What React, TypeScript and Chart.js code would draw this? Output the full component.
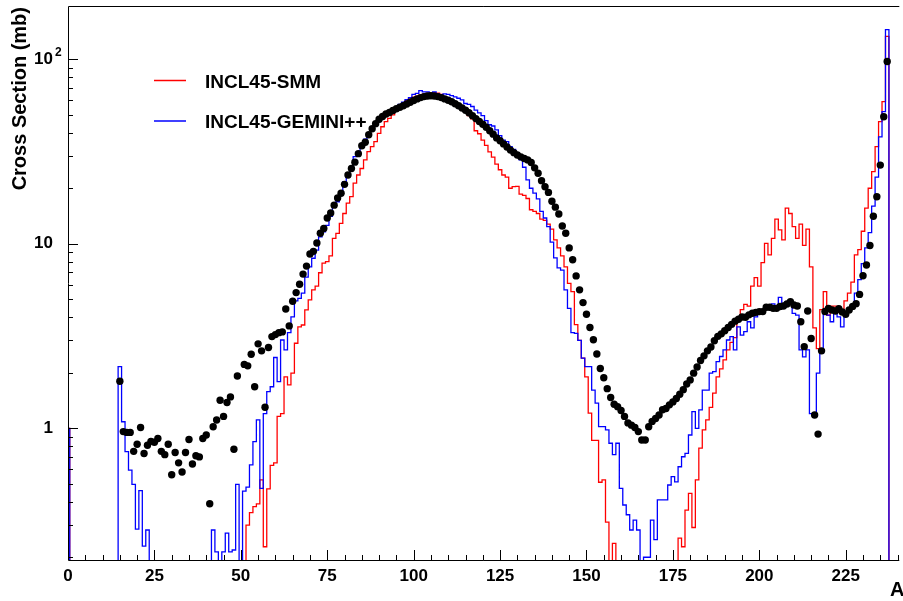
import React, { useEffect, useRef } from "react";
import { Chart, registerables } from "chart.js";

Chart.register(...registerables);

// ---- axis ranges / ticks ----
const X_MIN = 0;
const X_MAX = 240.5;
const Y_MIN = 0.1933;
const Y_MAX = 194.5;
const X_MAJOR_TICKS = [0, 25, 50, 75, 100, 125, 150, 175, 200, 225];
const Y_MAJOR_TICKS = [1, 10, 100];
const Y_TICK_LABELS = ["1", "10", "10"]; // 100 is written 10 with exponent 2
const Y_TICK_EXPONENTS = ["", "", "2"];
const SERIES_NAMES = ["INCL45-SMM", "INCL45-GEMINI++"];
const SERIES_COLORS = ["#ff0000", "#0000ff"];
const X_TITLE = "A";
const Y_TITLE = "Cross Section (mb)";

// ---- histogram contents, bin A = index (0..239) ----
const SMM = [
  1, 0, 0, 0, 0, 0, 0, 0, 0, 0,
  0, 0, 0, 0, 0, 0, 0, 0, 0, 0,
  0, 0, 0, 0, 0, 0, 0, 0, 0, 0,
  0, 0, 0, 0, 0, 0, 0, 0, 0, 0,
  0, 0, 0, 0, 0, 0, 0, 0, 0, 0,
  0, 0, 0.299, 0.349, 0.376, 0.389, 0.525, 0.228, 0.47, 0.63,
  0.65, 1.16, 1.2, 1.9, 1.72, 1.99, 2.89, 3.55, 3.63, 4.38,
  4.97, 5.63, 5.9, 6.97, 7.85, 8.0, 8.6, 10.7, 11.4, 12.9,
  14.6, 16.6, 18.0, 21.3, 23.6, 25.6, 28.5, 31.6, 33.6, 35.8,
  39.7, 43.1, 45.9, 47.9, 50, 52.5, 55, 57.5, 59.5, 61,
  62.3, 63.2, 64, 64.8, 65.4, 65.8, 65.8, 65.5, 64.5, 62,
  60, 58.5, 57, 55.5, 54, 52, 49.5, 47.5, 41, 39.5,
  36.5, 34.2, 31.5, 29.5, 27, 25.2, 23.6, 23.0, 20.0, 20.4,
  20.5, 18.6, 18.3, 17.6, 15.3, 15.0, 14.6, 13.6, 13.4, 12.8,
  12.0, 10.5, 9.5, 8.6, 7.5, 6.1, 5.5, 3.65, 3.0, 2.4,
  1.9, 1.21, 0.86, 0.86, 0.51, 0.525, 0.31, 0, 0.238, 0,
  0, 0, 0, 0, 0, 0, 0, 0, 0, 0,
  0, 0, 0, 0, 0, 0, 0, 0.254, 0.228, 0.36,
  0.444, 0.29, 0.525, 0.78, 0.98, 1.11, 1.3, 1.55, 1.9, 2.1,
  2.35, 2.66, 2.92, 3.1, 3.85, 4.4, 4.7, 4.6, 5.9, 6.55,
  5.9, 7.9, 10.05, 8.7, 10.7, 13.6, 11.9, 10.5, 15.6, 14.6,
  12.4, 10.7, 12.8, 9.8, 12.0, 7.5, 3.5, 2.7, 4.4, 5.5,
  4.1, 4.6, 4.6, 4.25, 4.15, 4.9, 5.4, 6.2, 8.7, 9.3,
  11.7, 15.6, 20, 24.6, 33.6, 45.9, 58.9, 133, 0, 0,
];

const GEMINI = [
  1, 0, 0, 0, 0, 0, 0, 0, 0, 0,
  0, 0, 0, 0, 0, 2.16, 1.085, 0.747, 0.594, 0.497,
  0.284, 0.46, 0.23, 0.281, 0, 0, 0, 0, 0, 0,
  0, 0, 0, 0, 0, 0, 0, 0, 0, 0,
  0, 0, 0.281, 0.214, 0, 0.214, 0.27, 0.214, 0.219, 0.497,
  0, 0.457, 0.48, 0.633, 0.846, 1.11, 0.473, 1.2, 1.58, 1.68,
  2.42, 1.79, 3.01, 2.66, 3.3, 4.02, 4.9, 5.06, 5.4, 6.6,
  7.5, 8.35, 9.25, 10.9, 11.6, 12.6, 14.1, 16.2, 16.9, 18.8,
  21.7, 23.1, 26.2, 29.7, 30.6, 33.6, 36.9, 39.7, 41.7, 44,
  45.9, 47.9, 49.9, 52.1, 53.5, 55, 57, 58.5, 60.5, 62,
  64.5, 65.4, 67.6, 66.6, 66.6, 65.2, 66.6, 64.8, 64.2, 65.0,
  64.5, 63.5, 62.5, 61.5, 60.2, 57.6, 57, 55.5, 53, 51.2,
  49.5, 46.5, 44.2, 43.5, 41.5, 38.6, 36.5, 35.8, 33.6, 32.5,
  30.5, 28.5, 26.0, 22.2, 20.0, 18.8, 17.5, 15.0, 13.8, 12.4,
  10.2, 8.4, 7.4, 7.2, 5.63, 4.47, 3.3, 3.27, 3.0, 2.4,
  2.16, 2.16, 1.61, 1.37, 1.02, 1.02, 0.98, 0.83, 0.72, 0.83,
  0.473, 0.384, 0.34, 0.281, 0.318, 0.281, 0, 0.2, 0.2, 0.318,
  0.249, 0.409, 0.409, 0.409, 0.493, 0.547, 0.513, 0.619, 0.701, 0.732,
  0.92, 1.23, 1.0, 1.26, 1.61, 1.61, 1.99, 2.03, 2.3, 2.45,
  2.66, 3.01, 3.14, 2.66, 3.55, 3.2, 3.34, 3.78, 3.5, 4.02,
  4.29, 4.38, 4.47, 4.56, 4.72, 4.56, 5.12, 4.47, 4.85, 4.85,
  4.2, 4.11, 2.66, 2.44, 2.66, 1.2, 1.16, 1.99, 2.55, 4.2,
  4.11, 3.78, 4.2, 4.02, 3.55, 4.2, 4.42, 4.66, 5.4, 6.4,
  7.8, 9.5, 11.5, 16, 23, 38, 52, 145, 0, 0,
];

// ---- measured points, A = DATA_FIRST_A + index ----
const DATA_FIRST_A = 15;
const DATA: (number | null)[] = [
  1.8, 0.96, 0.95, 0.95, 0.75,
  0.82, 1.01, 0.73, 0.81, 0.85, 0.84, 0.88, 0.75, 0.72, 0.82,
  0.56, 0.74, 0.65, 0.58, 0.74, 0.87, 0.64, 0.71, 0.7, 0.88,
  0.92, 0.39, 1.02, 1.11, 1.42, 1.16, 1.38, 1.48, 0.77, 1.92,
  null, 2.22, 2.18, 2.52, 1.68, 2.87, 2.63, 1.3, 2.74, 3.14,
  3.22, 3.3, 3.33, 4.43, 3.59, 4.88, 5.44, 6.04, 6.85, 7.57,
  8.8, 9.1, 10.1, 11.4, 12.1, 13.8, 14.7, 16.2, 17.7, 18.8,
  21.0, 23.6, 25.6, 27.7, 30.8, 34.0, 35.5, 39.0, 42.0, 44.8,
  47.3, 49.0, 50.5, 51.5, 52.8, 54.0, 55.0, 56.0, 57.3, 58.5,
  59.8, 61.0, 62.0, 62.8, 63.3, 63.5, 63.3, 62.8, 62.0, 61.0,
  60.0, 58.9, 57.4, 56.0, 54.5, 53.0, 51.3, 49.5, 47.7, 46.0,
  44.5, 42.8, 41.0, 39.3, 37.5, 36.2, 34.8, 33.5, 32.2, 31.2,
  30.3, 29.6, 29.0, 28.5, 27.6, 25.8, 24.1, 22.0, 20.4, 19.0,
  17.0, 15.8, 14.5, 12.5, 11.4, 9.5, 8.2, 6.7, 5.63, 4.8,
  4.15, 3.52, 3.02, 2.53, 2.11, 1.88, 1.64, 1.47, 1.35, 1.31,
  1.25, 1.16, 1.07, 1.04, 1.01, 0.96, 0.865, 0.865, 1.02, 1.09,
  1.13, 1.18, 1.26, 1.28, 1.34, 1.39, 1.45, 1.53, 1.62, 1.74,
  1.83, 1.99, 2.15, 2.33, 2.47, 2.63, 2.76, 2.98, 3.15, 3.25,
  3.38, 3.52, 3.66, 3.81, 3.9, 4.01, 4.0, 4.12, 4.2, 4.25,
  4.29, 4.29, 4.53, 4.53, 4.47, 4.47, 4.57, 4.6, 4.72, 4.86,
  4.66, 4.6, 3.78, 2.77, 4.32, 3.07, 1.18, 0.93, 2.63, 4.3,
  4.47, 4.38, 4.32, 4.45, 4.27, 4.15, 4.38, 4.58, 4.74, 5.32,
  6.71, 7.67, 9.8, 14.1, 18.0, 26.7, 48.8, 97.3,
];

const FONT = "'Liberation Sans', Arial, Helvetica, sans-serif";
const EMPTY_BIN = 1e-4; // empty bins fall below the log axis

function histPoints(values: number[]) {
  return values.map((v, i) => ({ x: i, y: v > 0 ? v : EMPTY_BIN }));
}

const rootStyle = {
  id: "rootStyle",
  afterDatasetsDraw(chart: any) {
    const { ctx, chartArea: a, scales } = chart;
    const xs = scales.x;
    const ys = scales.y;
    ctx.save();
    ctx.strokeStyle = "#000";
    ctx.lineWidth = 1;
    // frame: top, left, bottom
    ctx.beginPath();
    ctx.moveTo(a.right, a.top + 0.5);
    ctx.lineTo(a.left + 0.5, a.top + 0.5);
    ctx.lineTo(a.left + 0.5, a.bottom + 0.5);
    ctx.lineTo(a.right, a.bottom + 0.5);
    ctx.stroke();

    // x ticks (inside)
    ctx.beginPath();
    for (let v = 5; v <= X_MAX; v += 5) {
      const px = Math.round(xs.getPixelForValue(v)) + 0.5;
      const len = v % 25 === 0 ? 10 : 5;
      ctx.moveTo(px, a.bottom);
      ctx.lineTo(px, a.bottom - len);
    }
    // y ticks (inside)
    for (let k = -1; k <= 2; k++) {
      for (let m = 1; m <= 9; m++) {
        const v = m * Math.pow(10, k);
        if (v < Y_MIN || v > Y_MAX) continue;
        const py = Math.round(ys.getPixelForValue(v)) + 0.5;
        const len = m === 1 ? 10 : 5;
        ctx.moveTo(a.left, py);
        ctx.lineTo(a.left + len, py);
      }
    }
    ctx.stroke();

    // exponents of y labels
    ctx.fillStyle = "#000";
    ctx.font = `bold 12px ${FONT}`;
    ctx.textAlign = "left";
    ctx.textBaseline = "alphabetic";
    Y_MAJOR_TICKS.forEach((v, i) => {
      if (!Y_TICK_EXPONENTS[i]) return;
      ctx.fillText(Y_TICK_EXPONENTS[i], a.left - 13, ys.getPixelForValue(v) - 3);
    });

    // axis titles
    ctx.font = `bold 20px ${FONT}`;
    ctx.textAlign = "left";
    ctx.fillText(X_TITLE, 890, 596);
    ctx.save();
    ctx.translate(26, 7);
    ctx.rotate(-Math.PI / 2);
    ctx.textAlign = "right";
    ctx.fillText(Y_TITLE, 0, 0);
    ctx.restore();

    // legend
    const rows = [80.5, 121];
    const bases = [87.5, 128];
    ctx.font = `bold 19px ${FONT}`;
    SERIES_NAMES.forEach((name, i) => {
      ctx.strokeStyle = SERIES_COLORS[i];
      ctx.lineWidth = 1.5;
      ctx.beginPath();
      ctx.moveTo(154, rows[i]);
      ctx.lineTo(186, rows[i]);
      ctx.stroke();
      ctx.fillStyle = "#000";
      ctx.fillText(name, 205, bases[i]);
    });
    ctx.restore();
  },
};

export default function App() {
  const ref = useRef<HTMLCanvasElement>(null);
  useEffect(() => {
    document.body.style.margin = "0";
    const canvas = ref.current;
    if (!canvas) return;
    const tickFont = { family: FONT, size: 17, weight: "bold" as const };
    const chart = new Chart(canvas, {
      type: "line",
      data: {
        datasets: [
          {
            label: SERIES_NAMES[0],
            data: histPoints(SMM),
            borderColor: SERIES_COLORS[0],
            borderWidth: 1.3,
            stepped: "middle",
            pointRadius: 0,
            fill: false,
            order: 2,
          },
          {
            label: SERIES_NAMES[1],
            data: histPoints(GEMINI),
            borderColor: SERIES_COLORS[1],
            borderWidth: 1.3,
            stepped: "middle",
            pointRadius: 0,
            fill: false,
            order: 1,
          },
          {
            label: "Data",
            data: DATA.map((v, i) => (v == null ? null : { x: DATA_FIRST_A + i, y: v })).filter(
              (p) => p !== null
            ) as { x: number; y: number }[],
            showLine: false,
            pointRadius: 3.7,
            pointHoverRadius: 3.7,
            pointBackgroundColor: "#000",
            pointBorderWidth: 0,
            backgroundColor: "#000",
            borderColor: "#000",
            order: 0,
          },
        ],
      },
      options: {
        responsive: false,
        maintainAspectRatio: false,
        animation: false,
        devicePixelRatio: 1,
        events: [],
        layout: { padding: { top: 6, left: 0, right: 0, bottom: 0 } },
        plugins: {
          legend: { display: false },
          tooltip: { enabled: false },
          title: { display: false },
        },
        scales: {
          x: {
            type: "linear",
            min: X_MIN,
            max: X_MAX,
            grid: { display: false, drawTicks: false },
            border: { display: false },
            ticks: {
              font: tickFont,
              color: "#000",
              padding: 6,
              maxRotation: 0,
              autoSkip: false,
              includeBounds: false,
              callback: (v: any) => String(v),
            },
            afterBuildTicks: (axis: any) => {
              axis.ticks = X_MAJOR_TICKS.map((value) => ({ value }));
            },
            afterFit: (axis: any) => {
              axis.height = 41;
              axis.paddingLeft = 0;
              axis.paddingRight = 0;
            },
          },
          y: {
            type: "logarithmic",
            min: Y_MIN,
            max: Y_MAX,
            grid: { display: false, drawTicks: false },
            border: { display: false },
            ticks: {
              font: tickFont,
              color: "#000",
              padding: 15,
              autoSkip: false,
              callback: (v: any) => {
                const i = Y_MAJOR_TICKS.indexOf(Number(v));
                return i >= 0 ? Y_TICK_LABELS[i] : "";
              },
            },
            afterBuildTicks: (axis: any) => {
              axis.ticks = Y_MAJOR_TICKS.map((value) => ({ value }));
            },
            afterFit: (axis: any) => {
              axis.width = 68;
              axis.paddingTop = 0;
              axis.paddingBottom = 0;
            },
          },
        },
      },
      plugins: [rootStyle],
    });
    return () => chart.destroy();
  }, []);

  return (
    <div style={{ position: "absolute", left: 0, top: 0, width: 903, height: 601, background: "#fff" }}>
      <canvas ref={ref} width={903} height={601} style={{ display: "block", width: 903, height: 601 }} />
    </div>
  );
}
